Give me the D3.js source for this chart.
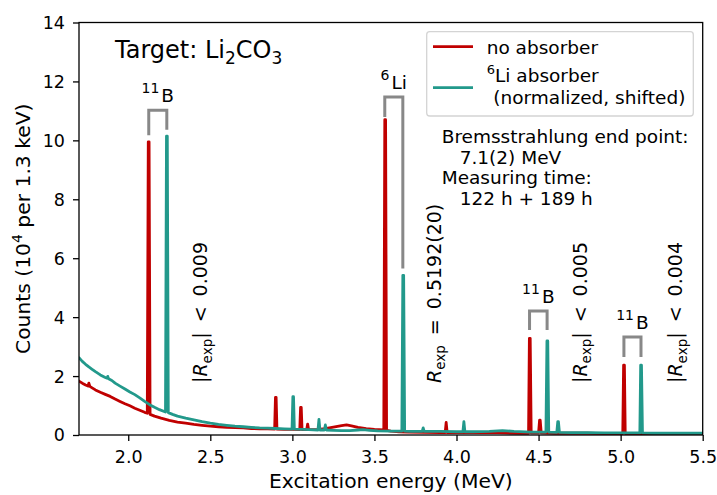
<!DOCTYPE html>
<html>
<head>
<meta charset="utf-8">
<script src="https://cdn.jsdelivr.net/npm/d3@7"></script>
<style>
  html, body { margin: 0; padding: 0; background: #fff; }
  svg { display: block; }
  text { font-family: "DejaVu Sans", sans-serif; fill: #000; }
</style>
</head>
<body>
<svg id="chart" width="717" height="495"></svg>
<script>
// Axis ticks
const energyTicks = [2.0, 2.5, 3.0, 3.5, 4.0, 4.5, 5.0, 5.5];
const countTicks = [0, 2, 4, 6, 8, 10, 12, 14];

// Spectrum without absorber: [excitation energy (MeV), counts (1e4 per 1.3 keV)]
const noAbsorber = [
  [1.70, 1.83], [1.72, 1.76], [1.74, 1.70], [1.755, 1.66], [1.760, 1.76], [1.766, 1.65],
  [1.78, 1.60], [1.80, 1.53], [1.83, 1.45], [1.86, 1.38], [1.89, 1.31], [1.92, 1.22],
  [1.95, 1.14], [1.98, 1.06], [2.01, 0.99], [2.04, 0.91], [2.07, 0.84], [2.10, 0.77],
  [2.116, 0.74], [2.122, 9.95], [2.127, 9.95], [2.133, 0.70], [2.16, 0.64], [2.20, 0.57],
  [2.25, 0.50], [2.30, 0.44], [2.35, 0.40], [2.40, 0.36], [2.45, 0.33], [2.50, 0.30],
  [2.55, 0.28], [2.60, 0.26], [2.65, 0.25], [2.70, 0.24], [2.75, 0.22], [2.80, 0.21],
  [2.85, 0.21], [2.892, 0.20], [2.897, 1.28], [2.901, 1.28], [2.906, 0.20], [2.95, 0.19],
  [3.00, 0.19], [3.045, 0.18], [3.050, 0.94], [3.054, 0.94], [3.059, 0.18], [3.087, 0.18],
  [3.093, 0.37], [3.099, 0.18], [3.15, 0.18], [3.20, 0.22], [3.25, 0.27], [3.30, 0.32],
  [3.33, 0.34], [3.36, 0.31], [3.40, 0.26], [3.45, 0.22], [3.50, 0.19], [3.557, 0.17],
  [3.563, 10.70], [3.568, 10.70], [3.574, 0.16], [3.60, 0.13], [3.65, 0.11], [3.70, 0.10],
  [3.80, 0.09], [3.90, 0.08], [3.931, 0.08], [3.937, 0.43], [3.943, 0.08], [4.00, 0.08],
  [4.10, 0.08], [4.20, 0.09], [4.30, 0.07], [4.40, 0.06], [4.439, 0.06], [4.444, 3.28],
  [4.449, 3.28], [4.455, 0.07], [4.50, 0.07], [4.506, 0.50], [4.510, 0.50], [4.516, 0.07],
  [4.60, 0.06], [4.70, 0.06], [4.80, 0.06], [4.90, 0.05], [5.013, 0.05], [5.018, 2.37],
  [5.023, 2.37], [5.028, 0.05], [5.10, 0.05], [5.20, 0.04], [5.30, 0.04], [5.40, 0.04],
  [5.50, 0.04]
];

// Spectrum with 6Li absorber (normalized, shifted)
const liAbsorber = [
  [1.70, 2.62], [1.72, 2.50], [1.74, 2.40], [1.76, 2.31], [1.78, 2.23], [1.80, 2.15],
  [1.83, 2.04], [1.86, 1.95], [1.870, 1.93], [1.875, 1.99], [1.880, 1.91], [1.90, 1.85],
  [1.92, 1.76], [1.95, 1.66], [1.98, 1.56], [2.01, 1.46], [2.04, 1.37], [2.07, 1.26],
  [2.10, 1.14], [2.13, 1.03], [2.16, 0.94], [2.19, 0.86], [2.227, 0.78], [2.233, 10.14],
  [2.238, 10.14], [2.244, 0.76], [2.27, 0.70], [2.30, 0.64], [2.35, 0.57], [2.40, 0.51],
  [2.45, 0.45], [2.50, 0.40], [2.55, 0.36], [2.60, 0.33], [2.65, 0.30], [2.70, 0.28],
  [2.75, 0.26], [2.80, 0.24], [2.85, 0.23], [2.90, 0.22], [2.95, 0.21], [2.998, 0.20],
  [3.003, 1.30], [3.007, 1.30], [3.012, 0.20], [3.06, 0.19], [3.10, 0.18], [3.156, 0.17],
  [3.162, 0.53], [3.168, 0.17], [3.195, 0.17], [3.201, 0.34], [3.207, 0.17], [3.25, 0.16],
  [3.30, 0.15], [3.35, 0.15], [3.40, 0.17], [3.43, 0.18], [3.47, 0.16], [3.52, 0.14],
  [3.60, 0.13], [3.667, 0.13], [3.673, 5.42], [3.678, 5.42], [3.684, 0.13], [3.72, 0.12],
  [3.791, 0.12], [3.797, 0.24], [3.803, 0.12], [3.90, 0.12], [4.00, 0.11], [4.039, 0.11],
  [4.045, 0.45], [4.051, 0.11], [4.10, 0.11], [4.20, 0.12], [4.28, 0.15], [4.35, 0.12],
  [4.45, 0.10], [4.545, 0.10], [4.551, 3.19], [4.556, 3.19], [4.562, 0.10], [4.611, 0.09],
  [4.617, 0.45], [4.621, 0.45], [4.627, 0.09], [4.70, 0.08], [4.80, 0.08], [4.90, 0.07],
  [5.00, 0.07], [5.10, 0.07], [5.117, 0.07], [5.122, 2.37], [5.127, 2.37], [5.133, 0.07],
  [5.20, 0.06], [5.30, 0.06], [5.40, 0.06], [5.50, 0.06]
];

// Peak pairs (unshifted / shifted) joined by a bracket, with the nuclide they belong to
const pairMass = ["11", "6", "11", "11"];
const pairSymbol = ["B", "Li", "B", "B"];
const pairLow = [2.125, 3.563, 4.445, 5.020];
const pairHigh = [2.235, 3.673, 4.552, 5.124];
const pairTop = [11.02, 11.47, 4.21, 3.33];
const pairFootLow = [10.17, 10.79, 3.56, 2.65];
const pairFootHigh = [10.36, 5.65, 3.56, 2.65];

// Asymmetry results written next to each pair
const ratioAbs = [true, false, true, true];
const ratioRelation = ["<", "=", "<", "<"];
const ratioValue = ["0.009", "0.5192(20)", "0.005", "0.004"];
const ratioAt = [2.48, 3.905, 4.795, 5.374];

const seriesNames = ["no absorber", "absorber"];
const seriesColors = ["#c00000", "#22998b"];

// ---- layout ----
const svg = d3.select("#chart");
const L = 79, R = 702.7, T = 22.5, B = 435;
const x = d3.scaleLinear().domain([1.7, 5.5]).range([L, R]);
const y = d3.scaleLinear().domain([0, 14]).range([B, T]);

svg.append("defs").append("clipPath").attr("id", "plotClip")
  .append("rect").attr("x", L).attr("y", T).attr("width", R - L).attr("height", B - T);

const line = d3.line().x(d => x(d[0])).y(d => y(d[1]));

const plot = svg.append("g").attr("clip-path", "url(#plotClip)");
[noAbsorber, liAbsorber].forEach((s, i) => {
  plot.append("path").datum(s)
    .attr("d", line)
    .attr("fill", "none")
    .attr("stroke", seriesColors[i])
    .attr("stroke-width", 2.8)
    .attr("stroke-linejoin", "round")
    .attr("stroke-linecap", "round");
});

// brackets
const br = svg.append("g");
pairLow.forEach((e, i) => {
  const pts = [[e, pairFootLow[i]], [e, pairTop[i]], [pairHigh[i], pairTop[i]], [pairHigh[i], pairFootHigh[i]]];
  br.append("path").attr("d", line(pts))
    .attr("fill", "none").attr("stroke", "#888888").attr("stroke-width", 3)
    .attr("stroke-linejoin", "miter");
  const cx = (x(e) + x(pairHigh[i])) / 2;
  const t = br.append("text").attr("x", cx).attr("y", y(pairTop[i]) - 8)
    .attr("text-anchor", "middle").style("font-size", "18.5px");
  t.append("tspan").text(pairMass[i]).style("font-size", "14px").attr("dy", -9);
  t.append("tspan").text(pairSymbol[i]).attr("dy", 9).attr("dx", 2);
});

// rotated asymmetry labels
ratioAt.forEach((e, i) => {
  const t = svg.append("text")
    .attr("transform", `translate(${x(e)},383) rotate(-90)`)
    .style("font-size", "19px");
  if (ratioAbs[i]) t.append("tspan").text("|");
  t.append("tspan").text("R").style("font-style", "italic");
  t.append("tspan").text("exp").style("font-size", "13.5px").attr("dy", 4.5);
  if (ratioAbs[i]) {
    t.append("tspan").text("|").attr("dy", -4.5);
    t.append("tspan").text(ratioRelation[i]).attr("dx", 10);
  } else {
    t.append("tspan").text(ratioRelation[i]).attr("dy", -4.5).attr("dx", 10);
  }
  t.append("tspan").text(ratioValue[i]).attr("dx", 10);
});

// axes
const xAxis = d3.axisBottom(x).tickValues(energyTicks).tickFormat(d3.format(".1f"))
  .tickSize(6).tickSizeOuter(0).tickPadding(10);
const yAxis = d3.axisLeft(y).tickValues(countTicks).tickFormat(d3.format("d"))
  .tickSize(6).tickSizeOuter(0).tickPadding(8);
const gx = svg.append("g").attr("transform", `translate(0,${B})`).call(xAxis);
const gy = svg.append("g").attr("transform", `translate(${L},0)`).call(yAxis);
[gx, gy].forEach(g => {
  g.select(".domain").remove();
  g.selectAll(".tick line").attr("stroke", "#000").attr("stroke-width", 1.3);
  g.selectAll(".tick text").style("font-family", "DejaVu Sans").style("font-size", "17.5px").attr("fill", "#000");
});
gy.selectAll(".tick text").attr("dy", "0.34em");

svg.append("rect").attr("x", L).attr("y", T).attr("width", R - L).attr("height", B - T)
  .attr("fill", "none").attr("stroke", "#000").attr("stroke-width", 1.3);

// axis titles
svg.append("text").attr("x", (L + R) / 2).attr("y", 488).attr("text-anchor", "middle")
  .style("font-size", "20.3px").text("Excitation energy (MeV)");
const yl = svg.append("text").attr("transform", `translate(30,${(T + B) / 2}) rotate(-90)`)
  .attr("text-anchor", "middle").style("font-size", "20.3px");
yl.append("tspan").text("Counts (10");
yl.append("tspan").text("4").style("font-size", "14px").attr("dy", -8);
yl.append("tspan").text(" per 1.3 keV)").attr("dy", 8);

// target title
const tt = svg.append("text").attr("x", 115).attr("y", 57.5).style("font-size", "24px");
tt.append("tspan").text("Target: Li");
tt.append("tspan").text("2").style("font-size", "17px").attr("dy", 6);
tt.append("tspan").text("CO").attr("dy", -6);
tt.append("tspan").text("3").style("font-size", "17px").attr("dy", 6);

// legend
const lg = svg.append("g");
lg.append("rect").attr("x", 426.7).attr("y", 31.7).attr("width", 266.6).attr("height", 84.3)
  .attr("rx", 3).attr("fill", "#fff").attr("fill-opacity", 0.8)
  .attr("stroke", "#d4d4d4").attr("stroke-width", 1.3);
[46.7, 87.7].forEach((ly, i) => {
  lg.append("line").attr("x1", 433).attr("x2", 473).attr("y1", ly).attr("y2", ly)
    .attr("stroke", seriesColors[i]).attr("stroke-width", 2.8);
});
lg.append("text").attr("x", 486.7).attr("y", 53.5).style("font-size", "18.5px").text(seriesNames[0]);
const l2 = lg.append("text").attr("x", 486.7).attr("y", 81.7).style("font-size", "18.5px");
l2.append("tspan").text("6").style("font-size", "13px").attr("dy", -8);
l2.append("tspan").text("Li " + seriesNames[1]).attr("dy", 8);
lg.append("text").attr("x", 493.3).attr("y", 103.5).style("font-size", "18.5px").text("(normalized, shifted)");

// measurement notes
const notes = [["Bremsstrahlung end point:", 0], ["7.1(2) MeV", 18], ["Measuring time:", 0], ["122 h + 189 h", 18]];
notes.forEach((n, i) => {
  svg.append("text").attr("x", 441.7 + n[1]).attr("y", 142.7 + i * 20.8)
    .style("font-size", "18.5px").text(n[0]);
});
</script>
</body>
</html>
